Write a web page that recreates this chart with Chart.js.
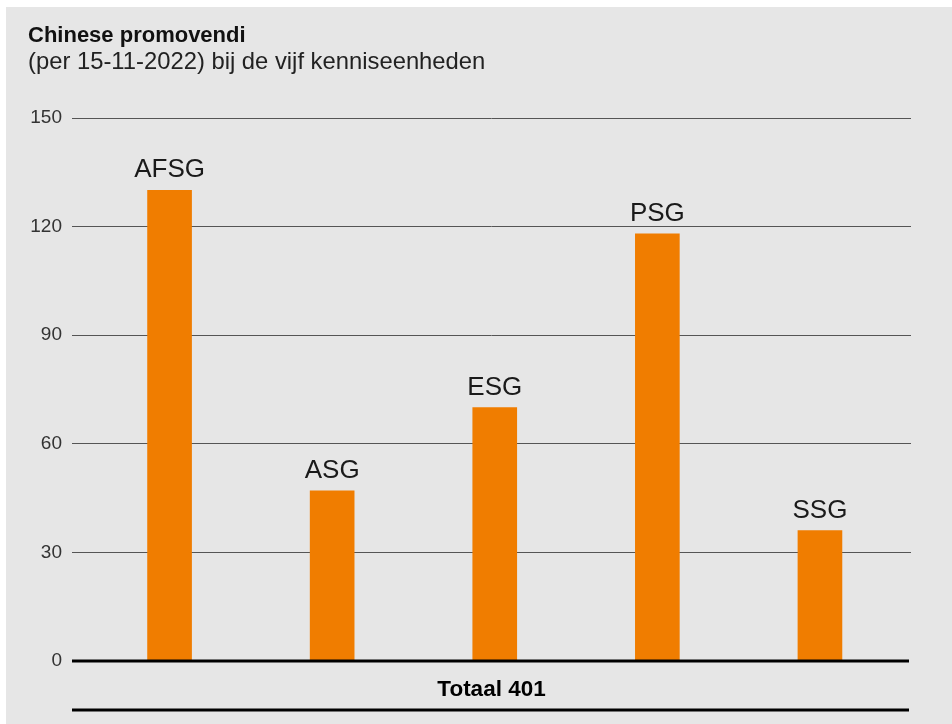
<!DOCTYPE html>
<html>
<head>
<meta charset="utf-8">
<script src="https://cdn.jsdelivr.net/npm/chart.js@4"></script>
<style>
  html, body { margin:0; padding:0; background:#ffffff; width:952px; height:724px; overflow:hidden; }
  #bg { position:absolute; left:6px; top:7px; right:0; bottom:0; background:#e6e6e6; }
  #wrap { position:absolute; left:0; top:0; width:952px; height:724px; }
  .t { position:absolute; left:28px; font-family:"Liberation Sans", Arial, sans-serif; color:#111; white-space:nowrap; }
  #title { top:22px; font-size:22px; font-weight:bold; }
  #sub { top:47px; font-size:23.8px; color:#222; }
</style>
</head>
<body>
<div id="bg"></div>
<div id="wrap"><canvas id="c" width="952" height="724"></canvas></div>
<div class="t" id="title">Chinese promovendi</div>
<div class="t" id="sub">(per 15-11-2022) bij de vijf kenniseenheden</div>
<script>
const categories = ["AFSG", "ASG", "ESG", "PSG", "SSG"];
const values = [130, 47, 70, 118, 36];
const yTicks = [0, 30, 60, 90, 120, 150];
const totalLabel = "Totaal";

const total = values.reduce((a, b) => a + b, 0);

const labelPlugin = {
  id: 'labels',
  afterDatasetsDraw(chart) {
    const ctx = chart.ctx;
    const meta = chart.getDatasetMeta(0);
    ctx.save();
    ctx.fillStyle = '#1a1a1a';
    ctx.font = '26px "Liberation Sans", Arial, sans-serif';
    ctx.textAlign = 'center';
    ctx.textBaseline = 'alphabetic';
    meta.data.forEach((bar, i) => {
      ctx.fillText(categories[i], bar.x, bar.y - 13);
    });
    const a = chart.chartArea;
    const y0 = chart.scales.y.getPixelForValue(0);
    ctx.strokeStyle = '#000';
    ctx.lineWidth = 3;
    ctx.beginPath();
    ctx.moveTo(a.left, y0);
    ctx.lineTo(a.right - 2, y0);
    ctx.stroke();
    ctx.beginPath();
    ctx.moveTo(a.left, y0 + 49);
    ctx.lineTo(a.right - 2, y0 + 49);
    ctx.stroke();
    ctx.fillStyle = '#000';
    ctx.font = 'bold 22.5px "Liberation Sans", Arial, sans-serif';
    ctx.fillText(totalLabel + ' ' + total, (a.left + a.right) / 2, y0 + 35);
    ctx.restore();
  }
};

new Chart(document.getElementById('c'), {
  type: 'bar',
  data: {
    datasets: [{
      data: values.map((v, i) => ({ x: i, y: v })),
      backgroundColor: '#f07d00',
      borderWidth: 0,
      barThickness: 44
    }]
  },
  options: {
    responsive: false,
    animation: false,
    layout: { padding: { top: 118, right: 41, bottom: 63, left: 0 } },
    plugins: { legend: { display: false }, tooltip: { enabled: false } },
    scales: {
      x: {
        type: 'linear',
        offset: false,
        min: -0.6,
        max: 4.56,
        display: false
      },
      y: {
        min: 0,
        max: 150,
        afterBuildTicks(scale) { scale.ticks = yTicks.map(v => ({ value: v })); },
        afterFit(scale) { scale.width = 72; },
        border: { display: false },
        grid: {
          drawTicks: false,
          color: ctx => ctx.tick && ctx.tick.value === 0 ? 'rgba(0,0,0,0)' : '#555555',
          lineWidth: 1
        },
        ticks: {
          padding: 10,
          color: '#333',
          font: { family: '"Liberation Sans", Arial, sans-serif', size: 19 }
        }
      }
    }
  },
  plugins: [labelPlugin]
});
</script>
</body>
</html>
